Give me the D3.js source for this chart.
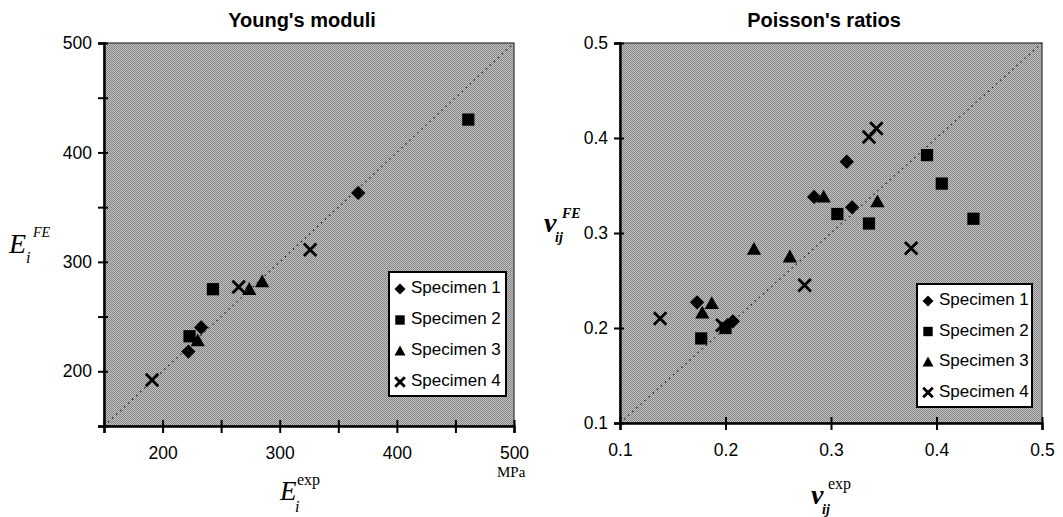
<!DOCTYPE html>
<html lang="en">
<head>
<meta charset="UTF-8">
<title>Young's moduli / Poisson's ratios</title>
<script src="https://cdn.jsdelivr.net/npm/d3@7"></script>
<style>
  body { margin: 0; background: #fff; }
</style>
</head>
<body>
<script>
// ---- data ----
const specimens = ['Specimen 1', 'Specimen 2', 'Specimen 3', 'Specimen 4']
const shapes = ['diamond', 'square', 'triangle', 'cross']

// Young's moduli, MPa: [E exp, E FE]
const young1 = [[367, 363], [222, 218], [233, 240]]
const young2 = [[461, 430], [243, 275], [223, 232]]
const young3 = [[285, 282], [274, 275], [230, 228]]
const young4 = [[191, 192], [326, 311], [265, 277]]

// Poisson's ratios: [nu exp, nu FE]
const poisson1 = [[0.315, 0.375], [0.284, 0.338], [0.320, 0.327], [0.173, 0.227], [0.207, 0.207]]
const poisson2 = [[0.391, 0.382], [0.405, 0.352], [0.435, 0.315], [0.306, 0.320], [0.336, 0.310], [0.177, 0.189], [0.200, 0.200]]
const poisson3 = [[0.227, 0.283], [0.261, 0.275], [0.293, 0.338], [0.344, 0.333], [0.187, 0.226], [0.178, 0.216]]
const poisson4 = [[0.336, 0.401], [0.343, 0.410], [0.376, 0.284], [0.275, 0.245], [0.138, 0.210], [0.197, 0.203]]

const youngTicks = [150, 200, 250, 300, 350, 400, 450, 500]
const youngLabels = [200, 300, 400, 500]
const poissonTicks = [0.1, 0.2, 0.3, 0.4, 0.5]

const width = 1063
const height = 517
const SANS = 'Arial, "Liberation Sans", sans-serif'
const SERIF = '"Liberation Serif", "Times New Roman", serif'

const svg = d3.select('body').append('svg')
  .attr('width', width)
  .attr('height', height)
  .style('font-family', SANS)

// halftone-like gray background
const pat = svg.append('defs').append('pattern')
  .attr('id', 'dots')
  .attr('width', 2).attr('height', 2)
  .attr('patternUnits', 'userSpaceOnUse')
pat.append('rect').attr('width', 2).attr('height', 2).attr('fill', '#c2c2c2')
pat.append('rect').attr('x', 0).attr('y', 0).attr('width', 1).attr('height', 1).attr('fill', '#858585')
pat.append('rect').attr('x', 1).attr('y', 1).attr('width', 1).attr('height', 1).attr('fill', '#858585')

function marker(g, shape, x, y, s) {
  if (shape === 'cross') {
    const h = s * 0.48
    g.append('path')
      .attr('d', `M${x - h},${y - h}L${x + h},${y + h}M${x - h},${y + h}L${x + h},${y - h}`)
      .attr('stroke', '#000').attr('stroke-width', 2.8).attr('fill', 'none')
    return
  }
  let d
  if (shape === 'diamond') {
    const h = s * 0.55
    d = `M${x},${y - h}L${x + h},${y}L${x},${y + h}L${x - h},${y}Z`
  } else if (shape === 'square') {
    const h = s * 0.47
    d = `M${x - h},${y - h}H${x + h}V${y + h}H${x - h}Z`
  } else {
    const h = s * 0.55
    d = `M${x},${y - h}L${x + h},${y + h * 0.8}L${x - h},${y + h * 0.8}Z`
  }
  g.append('path').attr('d', d).attr('fill', '#000')
}

function drawPanel(opt) {
  const x = d3.scaleLinear().domain(opt.domain).range(opt.xRange)
  const y = d3.scaleLinear().domain(opt.domain).range(opt.yRange)
  const g = svg.append('g')

  g.append('rect')
    .attr('x', opt.xRange[0]).attr('y', opt.yRange[1])
    .attr('width', opt.xRange[1] - opt.xRange[0])
    .attr('height', opt.yRange[0] - opt.yRange[1])
    .attr('fill', 'url(#dots)')
    .attr('stroke', '#333').attr('stroke-width', 1.2)

  // dotted 1:1 line
  g.append('line')
    .attr('x1', x(opt.domain[0])).attr('y1', y(opt.domain[0]))
    .attr('x2', x(opt.domain[1])).attr('y2', y(opt.domain[1]))
    .attr('stroke', '#222').attr('stroke-width', 1.2)
    .attr('stroke-dasharray', '1.5,4')

  // points
  opt.series.forEach((pts, i) => {
    pts.forEach(p => marker(g, shapes[i], x(p[0]), y(p[1]), 13))
  })

  const fmt = opt.fmt
  const xAxis = g.append('g')
    .attr('transform', `translate(0,${opt.yRange[0]})`)
    .call(d3.axisBottom(x).tickValues(opt.ticks).tickSize(7).tickPadding(14)
      .tickFormat(d => opt.labels.includes(d) ? fmt(d) : ''))
  xAxis.selectAll('.tick line').attr('y1', -6).attr('y2', 7).attr('stroke-width', 2)
  const yAxis = g.append('g')
    .attr('transform', `translate(${opt.xRange[0]},0)`)
    .call(d3.axisLeft(y).tickValues(opt.ticks).tickSize(6).tickPadding(6)
      .tickFormat(d => opt.labels.includes(d) ? fmt(d) : ''))
  yAxis.selectAll('.tick line').attr('x1', 4).attr('x2', -6).attr('stroke-width', 2)

  for (const ax of [xAxis, yAxis]) {
    ax.select('.domain').attr('stroke', '#000').attr('stroke-width', 2.4)
    ax.selectAll('.tick text')
      .attr('font-size', 17.5)
      .attr('font-family', SANS)
      .attr('fill', '#000')
  }

  // title
  g.append('text')
    .attr('x', opt.titleX).attr('y', 27)
    .attr('text-anchor', 'middle')
    .attr('font-size', 20).attr('font-weight', 'bold')
    .text(opt.title)

  // legend
  const L = opt.legend
  const lg = g.append('g')
  lg.append('rect')
    .attr('x', L.x).attr('y', L.y).attr('width', L.w).attr('height', L.h)
    .attr('fill', '#fff').attr('stroke', '#000').attr('stroke-width', 2)
  specimens.forEach((name, i) => {
    const cy = L.y + 15 + i * L.step
    marker(lg, shapes[i], L.x + 11, cy + 2, 10)
    lg.append('text')
      .attr('x', L.x + 22).attr('y', cy + 6)
      .attr('font-size', 17)
      .text(name)
  })
}

drawPanel({
  domain: [150, 500],
  xRange: [104, 514],
  yRange: [426, 43],
  ticks: youngTicks,
  labels: youngLabels,
  fmt: d3.format('d'),
  series: [young1, young2, young3, young4],
  title: "Young's moduli",
  titleX: 302,
  legend: { x: 389, y: 272, w: 117, h: 124, step: 31 }
})

drawPanel({
  domain: [0.1, 0.5],
  xRange: [620, 1042],
  yRange: [423, 43],
  ticks: poissonTicks,
  labels: poissonTicks,
  fmt: d3.format('.1f'),
  series: [poisson1, poisson2, poisson3, poisson4],
  title: "Poisson's ratios",
  titleX: 824,
  legend: { x: 917, y: 284, w: 115, h: 123, step: 30.5 }
})

// axis labels (math-style, serif)
function lbl(x, y, txt, size, style, weight) {
  svg.append('text')
    .attr('x', x).attr('y', y)
    .style('font-family', SERIF)
    .attr('font-size', size)
    .attr('font-style', style || 'italic')
    .attr('font-weight', weight || 'normal')
    .text(txt)
}
// E_i^FE
lbl(9, 253, 'E', 28)
lbl(33, 237, 'FE', 14)
lbl(26, 263, 'i', 16)
// E_i^exp
lbl(280, 500, 'E', 27)
lbl(297, 485, 'exp', 16, 'normal')
lbl(295, 512, 'i', 16)
// MPa
lbl(497, 477, 'MPa', 15, 'normal')
// nu_ij^FE
lbl(544, 232, 'v', 28, 'italic', 'bold')
lbl(562, 218, 'FE', 14, 'italic', 'bold')
lbl(555, 242, 'ij', 14, 'italic', 'bold')
// nu_ij^exp
lbl(811, 504, 'v', 28, 'italic', 'bold')
lbl(828, 489, 'exp', 16, 'normal')
lbl(822, 514, 'ij', 14, 'italic', 'bold')
</script>
</body>
</html>
